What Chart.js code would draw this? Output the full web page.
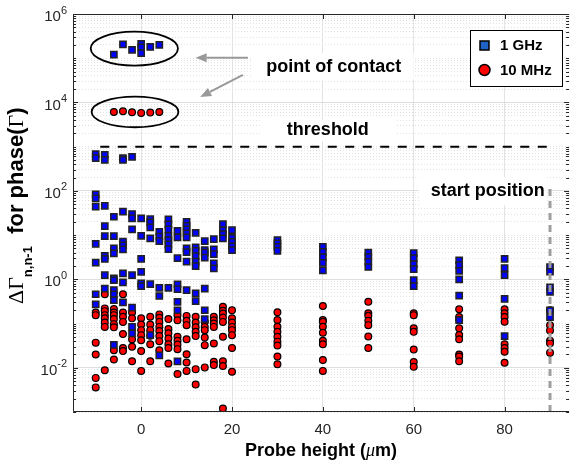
<!DOCTYPE html>
<html>
<head>
<meta charset="utf-8">
<style>
  html, body { margin: 0; padding: 0; background: #fff; overflow: hidden; }
</style>
<script src="https://cdn.jsdelivr.net/npm/chart.js@4.4.0/dist/chart.umd.min.js"></script>
</head>
<body>
<canvas id="probeChart" width="575" height="463"></canvas>
<script>
// probe heights (um) and the values measured at each one
const heights = [-10, -8, -6, -4, -2, 0, 2, 4, 6, 8, 10, 12, 14, 16, 18, 20, 30, 40, 50, 60, 70, 80, 90];

// 1 GHz, one list per height
const ghzValues = [
  [680, 550, 83, 68, 44, 6.3, 2.4, 0.46, 0.27],
  [650, 500, 46, 16, 9.5, 3.4, 2.9, 1.24, 0.62],
  [1.2e5, 26, 9.5, 5.0, 3.85, 1.05, 0.96, 0.57, 0.46, 0.34, 0.033],
  [2.05e5, 550, 500, 34, 7.1, 5.9, 4.75, 1.36, 0.85, 0.30],
  [1.55e5, 590, 30, 24, 13.5, 1.24, 0.23, 0.084, 0.060],
  [2.1e5, 1.75e5, 1.3e5, 24, 9.6, 2.9, 1.48, 0.81, 0.70],
  [1.8e5, 23, 19.4, 14.9, 8.4, 0.78, 0.055],
  [2.0e5, 11.9, 9.2, 7.3, 0.64, 0.42, 0.019],
  [22.6, 17.5, 13.5, 9.6, 7.7, 6.2, 4.8, 0.64],
  [12.5, 8.9, 3.0, 0.77, 0.60, 0.31, 0.20, 0.014],
  [20, 16.2, 13.5, 10.9, 8.9, 5.0, 4.1, 2.5, 0.57],
  [11.3, 5.3, 4.4, 3.35, 2.5, 2.0, 0.48, 0.32],
  [7.3, 4.6, 4.0, 3.1, 0.62, 0.20, 0.126],
  [8.1, 4.75, 3.7, 2.3, 1.77],
  [17.7, 13, 10.5, 8.4],
  [13, 8.7, 7.0, 5.6, 4.6],
  [7.7, 6.5, 5.4, 4.4],
  [5.4, 4.2, 3.2, 2.35, 1.6],
  [4.0, 3.2, 2.5, 1.9],
  [3.9, 3.0, 2.2, 1.7, 0.96, 0.70],
  [2.7, 2.1, 1.55, 1.0, 0.43, 0.12],
  [2.9, 1.8, 1.25, 0.36, 0.052],
  [1.9, 1.5, 0.66, 0.52, 0.20, 0.14]
];

// 10 MHz, one list per height
const mhzValues = [
  [0.178, 0.155, 0.037, 0.020, 0.0059, 0.0036],
  [0.46, 0.22, 0.191, 0.155, 0.131, 0.106, 0.084, 0.0088],
  [6100, 0.212, 0.178, 0.155, 0.126, 0.097, 0.082, 0.025, 0.0154],
  [6300, 0.46, 0.178, 0.142, 0.109, 0.058, 0.028, 0.0238],
  [6000, 0.178, 0.131, 0.044, 0.0297, 0.0141],
  [5800, 0.131, 0.0955, 0.071, 0.0547, 0.042, 0.0238, 0.0085],
  [5900, 0.142, 0.0955, 0.071, 0.0527, 0.034, 0.0141],
  [6100, 0.161, 0.135, 0.109, 0.084, 0.068, 0.052, 0.040, 0.025],
  [0.126, 0.075, 0.060, 0.046, 0.034, 0.028, 0.0125],
  [0.155, 0.119, 0.050, 0.041, 0.0337, 0.0264, 0.0072],
  [0.149, 0.115, 0.092, 0.0443, 0.0203, 0.0132, 0.0085],
  [0.142, 0.106, 0.082, 0.065, 0.052, 0.0093, 0.0042],
  [0.109, 0.084, 0.071, 0.0485, 0.0325, 0.0102],
  [0.142, 0.119, 0.1005, 0.084, 0.0355, 0.0136, 0.0115],
  [0.239, 0.194, 0.169, 0.137, 0.109, 0.050, 0.0141, 0.0110, 0.0012],
  [0.20, 0.131, 0.106, 0.084, 0.071, 0.0547, 0.028, 0.0081],
  [0.18, 0.12, 0.085, 0.065, 0.05, 0.039, 0.032, 0.018, 0.012],
  [0.25, 0.12, 0.11, 0.085, 0.062, 0.041, 0.034, 0.015, 0.0085],
  [0.31, 0.17, 0.15, 0.115, 0.092, 0.051, 0.028],
  [0.17, 0.155, 0.078, 0.065, 0.026, 0.0135, 0.0105],
  [0.21, 0.14, 0.12, 0.078, 0.055, 0.044, 0.020, 0.018, 0.014],
  [0.21, 0.17, 0.14, 0.11, 0.034, 0.028, 0.023, 0.013],
  [0.20, 0.091, 0.07, 0.041, 0.036, 0.022]
];

const thresholdValue = 1000;
const thresholdSpan = [-9, 90];
const startHeight = 90;
const startSpan = [0.001, 135];

const xTicks = [0, 20, 40, 60, 80];
const yTickExponents = [-2, 0, 2, 4, 6];

// grid positions of the log axis: 1..9 x 10^k
const yGrid = [];
for (let e = -3; e < 6; e++) {
  for (let m = 1; m <= 9; m++) yGrid.push(m * Math.pow(10, e));
}
yGrid.push(1e6);

function isLabelDecade(v) {
  const l = Math.log10(v);
  const r = Math.round(l);
  return Math.abs(l - r) < 1e-6 && yTickExponents.includes(r);
}

// annotation marks, in data coordinates
const callouts = [
  { text: 'point of contact', x: 42.4, y: 6.3e4, box: [24.6, 60.0, 1.31e5, 3.2e4] },
  { text: 'threshold', x: 41.1, y: 2380, box: [26.1, 56.1, 4000, 1340] },
  { text: 'start position', x: 76.3, y: 100, box: [61.1, 89.3, 205, 48] }
];
const ellipses = [
  { x: [-11.1, 8.1], y: [4e5, 6.8e4] },
  { x: [-10.9, 8.2], y: [1.35e4, 2750] }
];
const arrows = [
  { from: [23.5, 1.03e5], to: [12.0, 1.03e5] },
  { from: [22.4, 4.2e4], to: [13.0, 1.33e4] }
];

const SANS = '"Liberation Sans", Arial, sans-serif';
const SERIF = '"Liberation Serif", "Times New Roman", serif';

const toPoints = values => heights.flatMap((h, i) => values[i].map(v => ({ x: h, y: v })));

const decorPlugin = {
  id: 'decor',
  beforeDatasetsDraw(chart) {
    const { ctx, scales: { x, y } } = chart;
    ctx.save();
    ctx.fillStyle = '#fff';
    callouts.forEach(c => {
      const x0 = x.getPixelForValue(c.box[0]), x1 = x.getPixelForValue(c.box[1]);
      const y0 = y.getPixelForValue(c.box[2]), y1 = y.getPixelForValue(c.box[3]);
      ctx.fillRect(x0, y0, x1 - x0, y1 - y0);
    });
    ctx.restore();
  },
  afterDraw(chart) {
    const { ctx, chartArea: { left, right, top, bottom }, scales: { x, y } } = chart;
    ctx.save();

    // axes frame (right side falls outside the picture)
    ctx.strokeStyle = '#262626';
    ctx.lineWidth = 1;
    ctx.beginPath();
    ctx.moveTo(right, top + 0.5);
    ctx.lineTo(left + 0.5, top + 0.5);
    ctx.lineTo(left + 0.5, bottom - 0.5);
    ctx.lineTo(right, bottom - 0.5);
    ctx.stroke();

    // inward tick marks
    ctx.beginPath();
    xTicks.forEach(v => {
      const px = Math.round(x.getPixelForValue(v)) + 0.5;
      ctx.moveTo(px, bottom); ctx.lineTo(px, bottom - 5);
      ctx.moveTo(px, top); ctx.lineTo(px, top + 5);
    });
    yGrid.forEach(v => {
      const py = Math.round(y.getPixelForValue(v)) + 0.5;
      const len = isLabelDecade(v) ? 5 : 3;
      ctx.moveTo(left, py); ctx.lineTo(left + len, py);
      ctx.moveTo(right, py); ctx.lineTo(right - len, py);
    });
    ctx.stroke();

    // y tick labels 10^k
    ctx.fillStyle = '#262626';
    ctx.textBaseline = 'middle';
    ctx.textAlign = 'left';
    yTickExponents.forEach(e => {
      const py = y.getPixelForValue(Math.pow(10, e));
      const sup = String(e);
      ctx.font = '11px ' + SANS;
      const supW = ctx.measureText(sup).width;
      ctx.font = '15px ' + SANS;
      const baseW = ctx.measureText('10').width;
      const xEnd = left - 6;
      ctx.fillText('10', xEnd - supW - baseW, py + 3);
      ctx.font = '11px ' + SANS;
      ctx.fillText(sup, xEnd - supW, py - 3.5);
    });

    // x axis title
    ctx.fillStyle = '#000';
    const xParts = [
      ['Probe height (', 'bold 18px ' + SANS],
      ['\u03bc', 'italic 18px ' + SERIF],
      ['m)', 'bold 18px ' + SANS]
    ];
    let total = 0;
    xParts.forEach(p => { ctx.font = p[1]; total += ctx.measureText(p[0]).width; });
    let cx = (left + right) / 2 - total / 2;
    xParts.forEach(p => { ctx.font = p[1]; ctx.fillText(p[0], cx, 451); cx += ctx.measureText(p[0]).width; });

    // y axis title, rotated
    ctx.save();
    ctx.translate(23, 304);
    ctx.rotate(-Math.PI / 2);
    ctx.textBaseline = 'alphabetic';
    let pos = 0;
    const piece = (t, font, dy) => { ctx.font = font; ctx.fillText(t, pos, dy); pos += ctx.measureText(t).width; };
    piece('\u0394\u0393', '22px ' + SERIF, 0);
    piece('n,n-1', 'bold 13px ' + SANS, 9);
    piece('  for phase(', 'bold 22px ' + SANS, 0);
    piece('\u0393', '22px ' + SERIF, 0);
    piece(')', 'bold 22px ' + SANS, 0);
    ctx.restore();

    // ellipses round the contact points
    ctx.strokeStyle = '#000';
    ctx.lineWidth = 1.8;
    ellipses.forEach(el => {
      const x0 = x.getPixelForValue(el.x[0]), x1 = x.getPixelForValue(el.x[1]);
      const y0 = y.getPixelForValue(el.y[0]), y1 = y.getPixelForValue(el.y[1]);
      ctx.beginPath();
      ctx.ellipse((x0 + x1) / 2, (y0 + y1) / 2, Math.abs(x1 - x0) / 2, Math.abs(y1 - y0) / 2, 0, 0, Math.PI * 2);
      ctx.stroke();
    });

    // arrows
    ctx.strokeStyle = '#999';
    ctx.fillStyle = '#999';
    ctx.lineWidth = 2;
    arrows.forEach(a => {
      const fx = x.getPixelForValue(a.from[0]), fy = y.getPixelForValue(a.from[1]);
      const tx = x.getPixelForValue(a.to[0]), ty = y.getPixelForValue(a.to[1]);
      const ang = Math.atan2(ty - fy, tx - fx);
      const hl = 11, hw = 4.5;
      const bx = tx - hl * Math.cos(ang), by = ty - hl * Math.sin(ang);
      ctx.beginPath();
      ctx.moveTo(fx, fy); ctx.lineTo(bx, by);
      ctx.stroke();
      ctx.beginPath();
      ctx.moveTo(tx, ty);
      ctx.lineTo(bx + hw * Math.sin(ang), by - hw * Math.cos(ang));
      ctx.lineTo(bx - hw * Math.sin(ang), by + hw * Math.cos(ang));
      ctx.closePath();
      ctx.fill();
    });

    // callout texts
    ctx.fillStyle = '#000';
    ctx.font = 'bold 18px ' + SANS;
    ctx.textAlign = 'center';
    ctx.textBaseline = 'middle';
    callouts.forEach(c => ctx.fillText(c.text, x.getPixelForValue(c.x), y.getPixelForValue(c.y)));

    // legend
    ctx.textAlign = 'left';
    ctx.fillStyle = '#fff';
    ctx.strokeStyle = '#000';
    ctx.lineWidth = 1;
    ctx.fillRect(470.5, 30.5, 92, 56);
    ctx.strokeRect(470.5, 30.5, 92, 56);
    ctx.fillStyle = '#1f63c6';
    ctx.lineWidth = 1.5;
    ctx.fillRect(480, 41, 9, 9);
    ctx.strokeRect(480, 41, 9, 9);
    ctx.beginPath();
    ctx.arc(484.5, 70, 5.5, 0, Math.PI * 2);
    ctx.fillStyle = '#ff0000';
    ctx.fill();
    ctx.stroke();
    ctx.fillStyle = '#000';
    ctx.font = 'bold 15px ' + SANS;
    ctx.fillText('1 GHz', 500, 46);
    ctx.fillText('10 MHz', 500, 70.5);

    ctx.restore();
  }
};

const ctx = document.getElementById('probeChart').getContext('2d');
new Chart(ctx, {
  type: 'scatter',
  data: {
    datasets: [
      {
        label: 'start position',
        type: 'line',
        data: [{ x: startHeight, y: startSpan[0] }, { x: startHeight, y: startSpan[1] }],
        borderColor: '#9e9e9e',
        borderWidth: 3,
        borderDash: [7, 5],
        pointRadius: 0,
        order: 0
      },
      {
        label: '1 GHz',
        data: toPoints(ghzValues),
        pointStyle: 'rect',
        pointRadius: 4.4,
        backgroundColor: '#0000ff',
        borderColor: '#222',
        borderWidth: 1.5,
        order: 1
      },
      {
        label: '10 MHz',
        data: toPoints(mhzValues),
        pointStyle: 'circle',
        pointRadius: 3.4,
        backgroundColor: '#ff0000',
        borderColor: '#000',
        borderWidth: 1.2,
        order: 2
      },
      {
        label: 'threshold',
        type: 'line',
        data: [{ x: thresholdSpan[0], y: thresholdValue }, { x: thresholdSpan[1], y: thresholdValue }],
        borderColor: '#000',
        borderWidth: 2,
        borderDash: [9, 8.5],
        pointRadius: 0,
        order: 3
      }
    ]
  },
  options: {
    responsive: false,
    animation: false,
    devicePixelRatio: 1,
    events: [],
    layout: { padding: { top: 14, right: 0, left: 0, bottom: 0 } },
    plugins: {
      legend: { display: false },
      tooltip: { enabled: false }
    },
    scales: {
      x: {
        type: 'linear',
        min: -15,
        max: 94.2,
        afterBuildTicks: s => { s.ticks = xTicks.map(v => ({ value: v })); },
        afterFit: s => { s.height = 51; },
        grid: { color: '#e3e3e3', drawTicks: false },
        border: { display: false },
        ticks: {
          color: '#262626',
          font: { family: SANS, size: 15 },
          padding: 9,
          autoSkip: false,
          maxRotation: 0
        }
      },
      y: {
        type: 'logarithmic',
        min: 1e-3,
        max: 1e6,
        afterBuildTicks: s => { s.ticks = yGrid.map(v => ({ value: v })); },
        afterFit: s => { s.width = 73; },
        grid: {
          color: c => (c.tick && isLabelDecade(c.tick.value)) ? '#dedede' : '#e2e2e2',
          drawTicks: false
        },
        border: {
          display: false,
          dash: c => (c.tick && isLabelDecade(c.tick.value)) ? [] : [1, 2]
        },
        ticks: { display: false }
      }
    }
  },
  plugins: [decorPlugin]
});
</script>
</body>
</html>
